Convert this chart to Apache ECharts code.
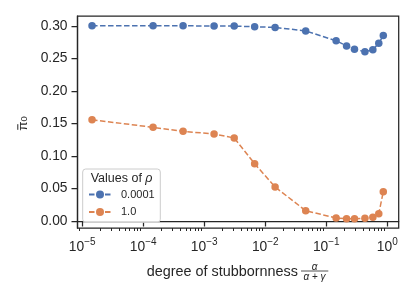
<!DOCTYPE html>
<html><head><meta charset="utf-8">
<script src="https://cdn.jsdelivr.net/npm/echarts@6/dist/echarts.min.js"></script>
<style>html,body{margin:0;padding:0;background:#fff}#c{width:415px;height:305px}</style>
</head><body><div id="c"></div>
<script>
// ---- data ----
const stubbornness = [1.45e-5, 1.45e-4, 4.5e-4, 1.45e-3, 3.1e-3, 6.7e-3, 0.0145, 0.046, 0.145, 0.215, 0.29, 0.43, 0.58, 0.725, 0.86];
const rho0001 = [0.300, 0.300, 0.300, 0.2995, 0.2995, 0.2985, 0.2975, 0.292, 0.277, 0.269, 0.264, 0.260, 0.263, 0.273, 0.285];
const rho1 = [0.1556, 0.1439, 0.1378, 0.1336, 0.1275, 0.088, 0.0522, 0.0158, 0.0046, 0.0035, 0.0035, 0.0041, 0.0057, 0.0112, 0.045];
const seriesNames = ['0.0001', '1.0'];
const yTicks = [0, 0.05, 0.10, 0.15, 0.20, 0.25, 0.30];
const xMajorTicks = [1e-5, 1e-4, 1e-3, 1e-2, 1e-1, 1];
const xMinorTicks = [];
for (let e = -6; e <= 0; e++) for (let m = 2; m <= 9; m++) xMinorTicks.push(m * Math.pow(10, e));

const FONT = 'Liberation Sans';
const INK = '#262626';
const XMIN = Math.pow(10, -5.077), XMAX = Math.pow(10, 0.187);
const TICKFS = 13.8;

const chart = echarts.init(document.getElementById('c'));
chart.setOption({
  animation: false,
  backgroundColor: '#fff',
  textStyle: { fontFamily: FONT },
  grid: { left: 77.5, top: 16, right: 16.3, bottom: 77, show: true, borderColor: INK, borderWidth: 1.25, backgroundColor: 'transparent' },
  xAxis: [{
    type: 'log', min: XMIN, max: XMAX,
    axisLine: { show: true, lineStyle: { color: INK, width: 1.25 } },
    splitLine: { show: false },
    axisTick: { show: true, customValues: xMajorTicks, length: 5.5, lineStyle: { color: INK, width: 1.25 } },
    axisLabel: {
      customValues: xMajorTicks, margin: 9.5, color: INK, fontSize: TICKFS,
      formatter: v => '{b|10}{s|' + String(Math.round(Math.log10(v))).replace('-', '−') + '}',
      rich: {
        b: { fontSize: TICKFS, fontFamily: FONT, color: INK },
        s: { fontSize: 10, fontFamily: FONT, color: INK, padding: [0, 0, 9, 0] }
      }
    }
  }, {
    type: 'log', min: XMIN, max: XMAX, position: 'bottom',
    axisLine: { show: false }, splitLine: { show: false },
    axisTick: { show: true, customValues: xMinorTicks, length: 3, lineStyle: { color: INK, width: 1 } },
    axisLabel: { show: false }
  }],
  yAxis: {
    type: 'value', min: -0.0108, max: 0.315,
    axisLine: { show: true, lineStyle: { color: INK, width: 1.25 } },
    splitLine: { show: false },
    axisTick: { show: true, customValues: yTicks, length: 6, lineStyle: { color: INK, width: 1.25 } },
    axisLabel: { customValues: yTicks, margin: 10, fontSize: TICKFS, color: INK, fontFamily: FONT, formatter: v => v.toFixed(2) }
  },
  legend: {
    data: seriesNames, orient: 'vertical', left: 88, top: 188.5, padding: 0,
    itemWidth: 22, itemHeight: 10, itemGap: 5.4,
    textStyle: { fontSize: 11, color: INK, fontFamily: FONT, lineHeight: 12, padding: [0, 0, 0, 5] }
  },
  graphic: [
    { type: 'rect', z: 3, shape: { x: 82.7, y: 169, width: 77.6, height: 53.3, r: 3 },
      style: { fill: 'rgba(255,255,255,0.85)', stroke: '#cccccc', lineWidth: 1 } },
    { type: 'text', z: 4, x: 90.7, y: 178.5,
      style: { text: 'Values of {i|ρ}', fontSize: 12.5, fontFamily: FONT, fill: INK, align: 'left', verticalAlign: 'middle',
        rich: { i: { fontSize: 12.5, fontStyle: 'italic', fontFamily: FONT, fill: INK } } } },
    { type: 'text', x: 23, y: 123.5, rotation: Math.PI / 2,
      style: { text: '{a|π}{s|0}', align: 'center', verticalAlign: 'middle', fill: INK,
        rich: { a: { fontSize: 13.5, fontFamily: FONT, fill: INK }, s: { fontSize: 9.5, fontFamily: FONT, fill: INK, padding: [3, 0, 0, 0] } } } },
    { type: 'line', shape: { x1: 17.8, y1: 124.2, x2: 17.8, y2: 129.8 }, style: { stroke: INK, lineWidth: 1 } },
    { type: 'text', x: 146.7, y: 272.5,
      style: { text: 'degree of stubbornness', fontSize: 14.4, fontFamily: FONT, fill: INK, align: 'left', verticalAlign: 'middle' } },
    { type: 'text', x: 314.5, y: 266.8,
      style: { text: 'α', fontSize: 10, fontStyle: 'italic', fontFamily: FONT, fill: INK, align: 'center', verticalAlign: 'middle' } },
    { type: 'line', shape: { x1: 301, y1: 271, x2: 328.3, y2: 271 }, style: { stroke: INK, lineWidth: 0.8 } },
    { type: 'text', x: 314.5, y: 277.5,
      style: { text: '{i|α} + {i|γ}', fontSize: 10, fontFamily: FONT, fill: INK, align: 'center', verticalAlign: 'middle',
        rich: { i: { fontSize: 10, fontStyle: 'italic', fontFamily: FONT, fill: INK } } } }
  ],
  series: [
    { name: seriesNames[0], type: 'line', xAxisIndex: 0,
      data: stubbornness.map((x, i) => [x, rho0001[i]]),
      symbol: 'circle', symbolSize: 7.5, color: '#4c72b0',
      lineStyle: { width: 1.5, type: [5.5, 2.5], color: '#4c72b0' }, itemStyle: { color: '#4c72b0' } },
    { name: seriesNames[1], type: 'line', xAxisIndex: 0,
      data: stubbornness.map((x, i) => [x, rho1[i]]),
      symbol: 'circle', symbolSize: 7.5, color: '#dd8452',
      lineStyle: { width: 1.5, type: [5.5, 2.5], color: '#dd8452' }, itemStyle: { color: '#dd8452' } }
  ]
});
</script></body></html>
